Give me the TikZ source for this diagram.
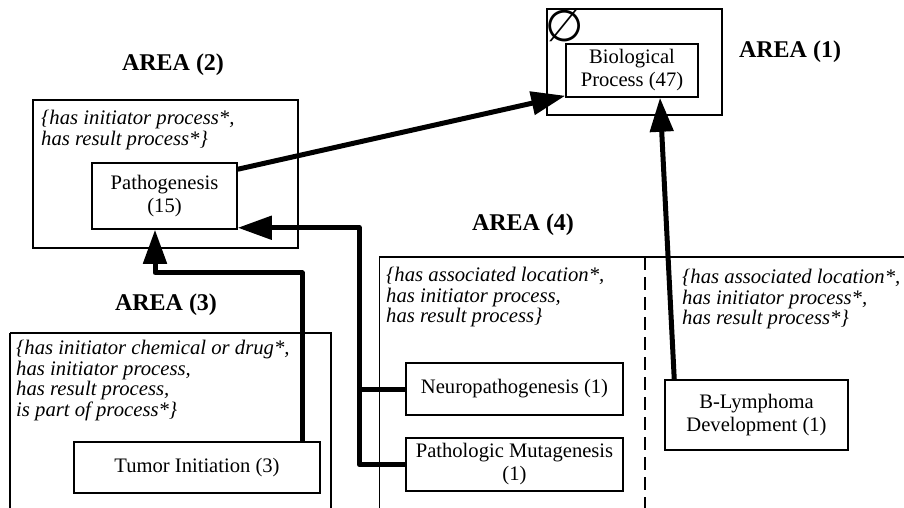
\documentclass[tikz,border=0pt]{standalone}
\usepackage{fontspec}
\setmainfont{Liberation Serif}
\newfontfamily\markfont{DejaVu Sans}
\usetikzlibrary{arrows.meta}
\begin{document}
\begin{tikzpicture}[x=1pt,y=1pt,
  area/.style={draw, line width=1.3pt},
  concept/.style={draw, line width=1.5pt, align=center, inner sep=0pt,
    font=\fontsize{20.6}{23}\selectfont},
  areatitle/.style={font=\fontsize{24}{28}\selectfont\bfseries, inner sep=0pt},
  props/.style={anchor=north west, align=left, inner sep=0pt,
    font=\fontsize{20.7}{20.5}\selectfont\itshape},
  link/.style={line width=5pt, line join=round,
    -{Triangle[length=34pt,width=23pt]}},
  joint/.style={line width=5pt, line join=round}
]
\useasboundingbox (0,0) rectangle (904,507);

% area frames
\draw[area] (547,498) rectangle (722,392);
\draw[area] (33,407) rectangle (298,259);
\draw[area] (10,174) -- (331,174) -- (331,-5);
\draw[area] (10,-5) -- (10,174);
\draw[area] (379.5,-5) -- (379.5,250) -- (910,250);
\draw[line width=1.2pt, dash pattern=on 13pt off 7pt] (645,250) -- (645,-5);

% area titles
\node[areatitle] (t1) at (790,455) {AREA (1)};
\node[areatitle] (t2) at (173,442) {AREA (2)};
\node[areatitle] (t3) at (166,202) {AREA (3)};
\node[areatitle] (t4) at (523,282) {AREA (4)};

% empty-set marker of the top area
\node[inner sep=0pt, font=\markfont\fontsize{44}{48}\selectfont] (empty) at (565,481) {∅};

% property lists
\node[props] (p2) at (41,397) {\{has initiator process*,\\ has result process*\}};
\node[props] (p3) at (16,167) {\{has initiator chemical or drug*,\\ has initiator process,\\ has result process,\\ is part of process*\}};
\node[props] (p4a) at (386,240) {\{has associated location*,\\ has initiator process,\\ has result process\}};
\node[props] (p4b) at (682,238) {\{has associated location*,\\ has initiator process*,\\ has result process*\}};

% concepts
\node[concept, minimum width=132pt, minimum height=53pt] (bio) at (632,436.5) {Biological\\ Process (47)};
\node[concept, minimum width=145pt, minimum height=66pt] (pat) at (164.5,311) {Pathogenesis\\ (15)};
\node[concept, minimum width=246pt, minimum height=51pt] (tum) at (197,39.5) {Tumor Initiation (3)};
\node[concept, minimum width=217pt, minimum height=52pt] (neu) at (514.5,118) {Neuropathogenesis (1)};
\node[concept, minimum width=217pt, minimum height=53pt] (mut) at (514.5,42.5) {Pathologic Mutagenesis\\ (1)};
\node[concept, minimum width=183pt, minimum height=70pt] (bly) at (756.5,92) {B-Lymphoma\\ Development (1)};

% subsumption links
\draw[link] ([yshift=-7pt]pat.north east) -- ([yshift=2pt]bio.south west);
\draw[link] ([xshift=10pt]bly.north west) -- ([xshift=28pt]bio.south);
\draw[link] ([xshift=105pt]tum.north) |- ([xshift=-9.5pt,yshift=-43pt]pat.south) -- ([xshift=-9.5pt]pat.south);
\draw[link] (neu.west) -- ++(-46pt,0) |- ([yshift=2pt]pat.south east);
\draw[joint] (mut.west) -| ([xshift=-46pt]neu.west);
\end{tikzpicture}
\end{document}
